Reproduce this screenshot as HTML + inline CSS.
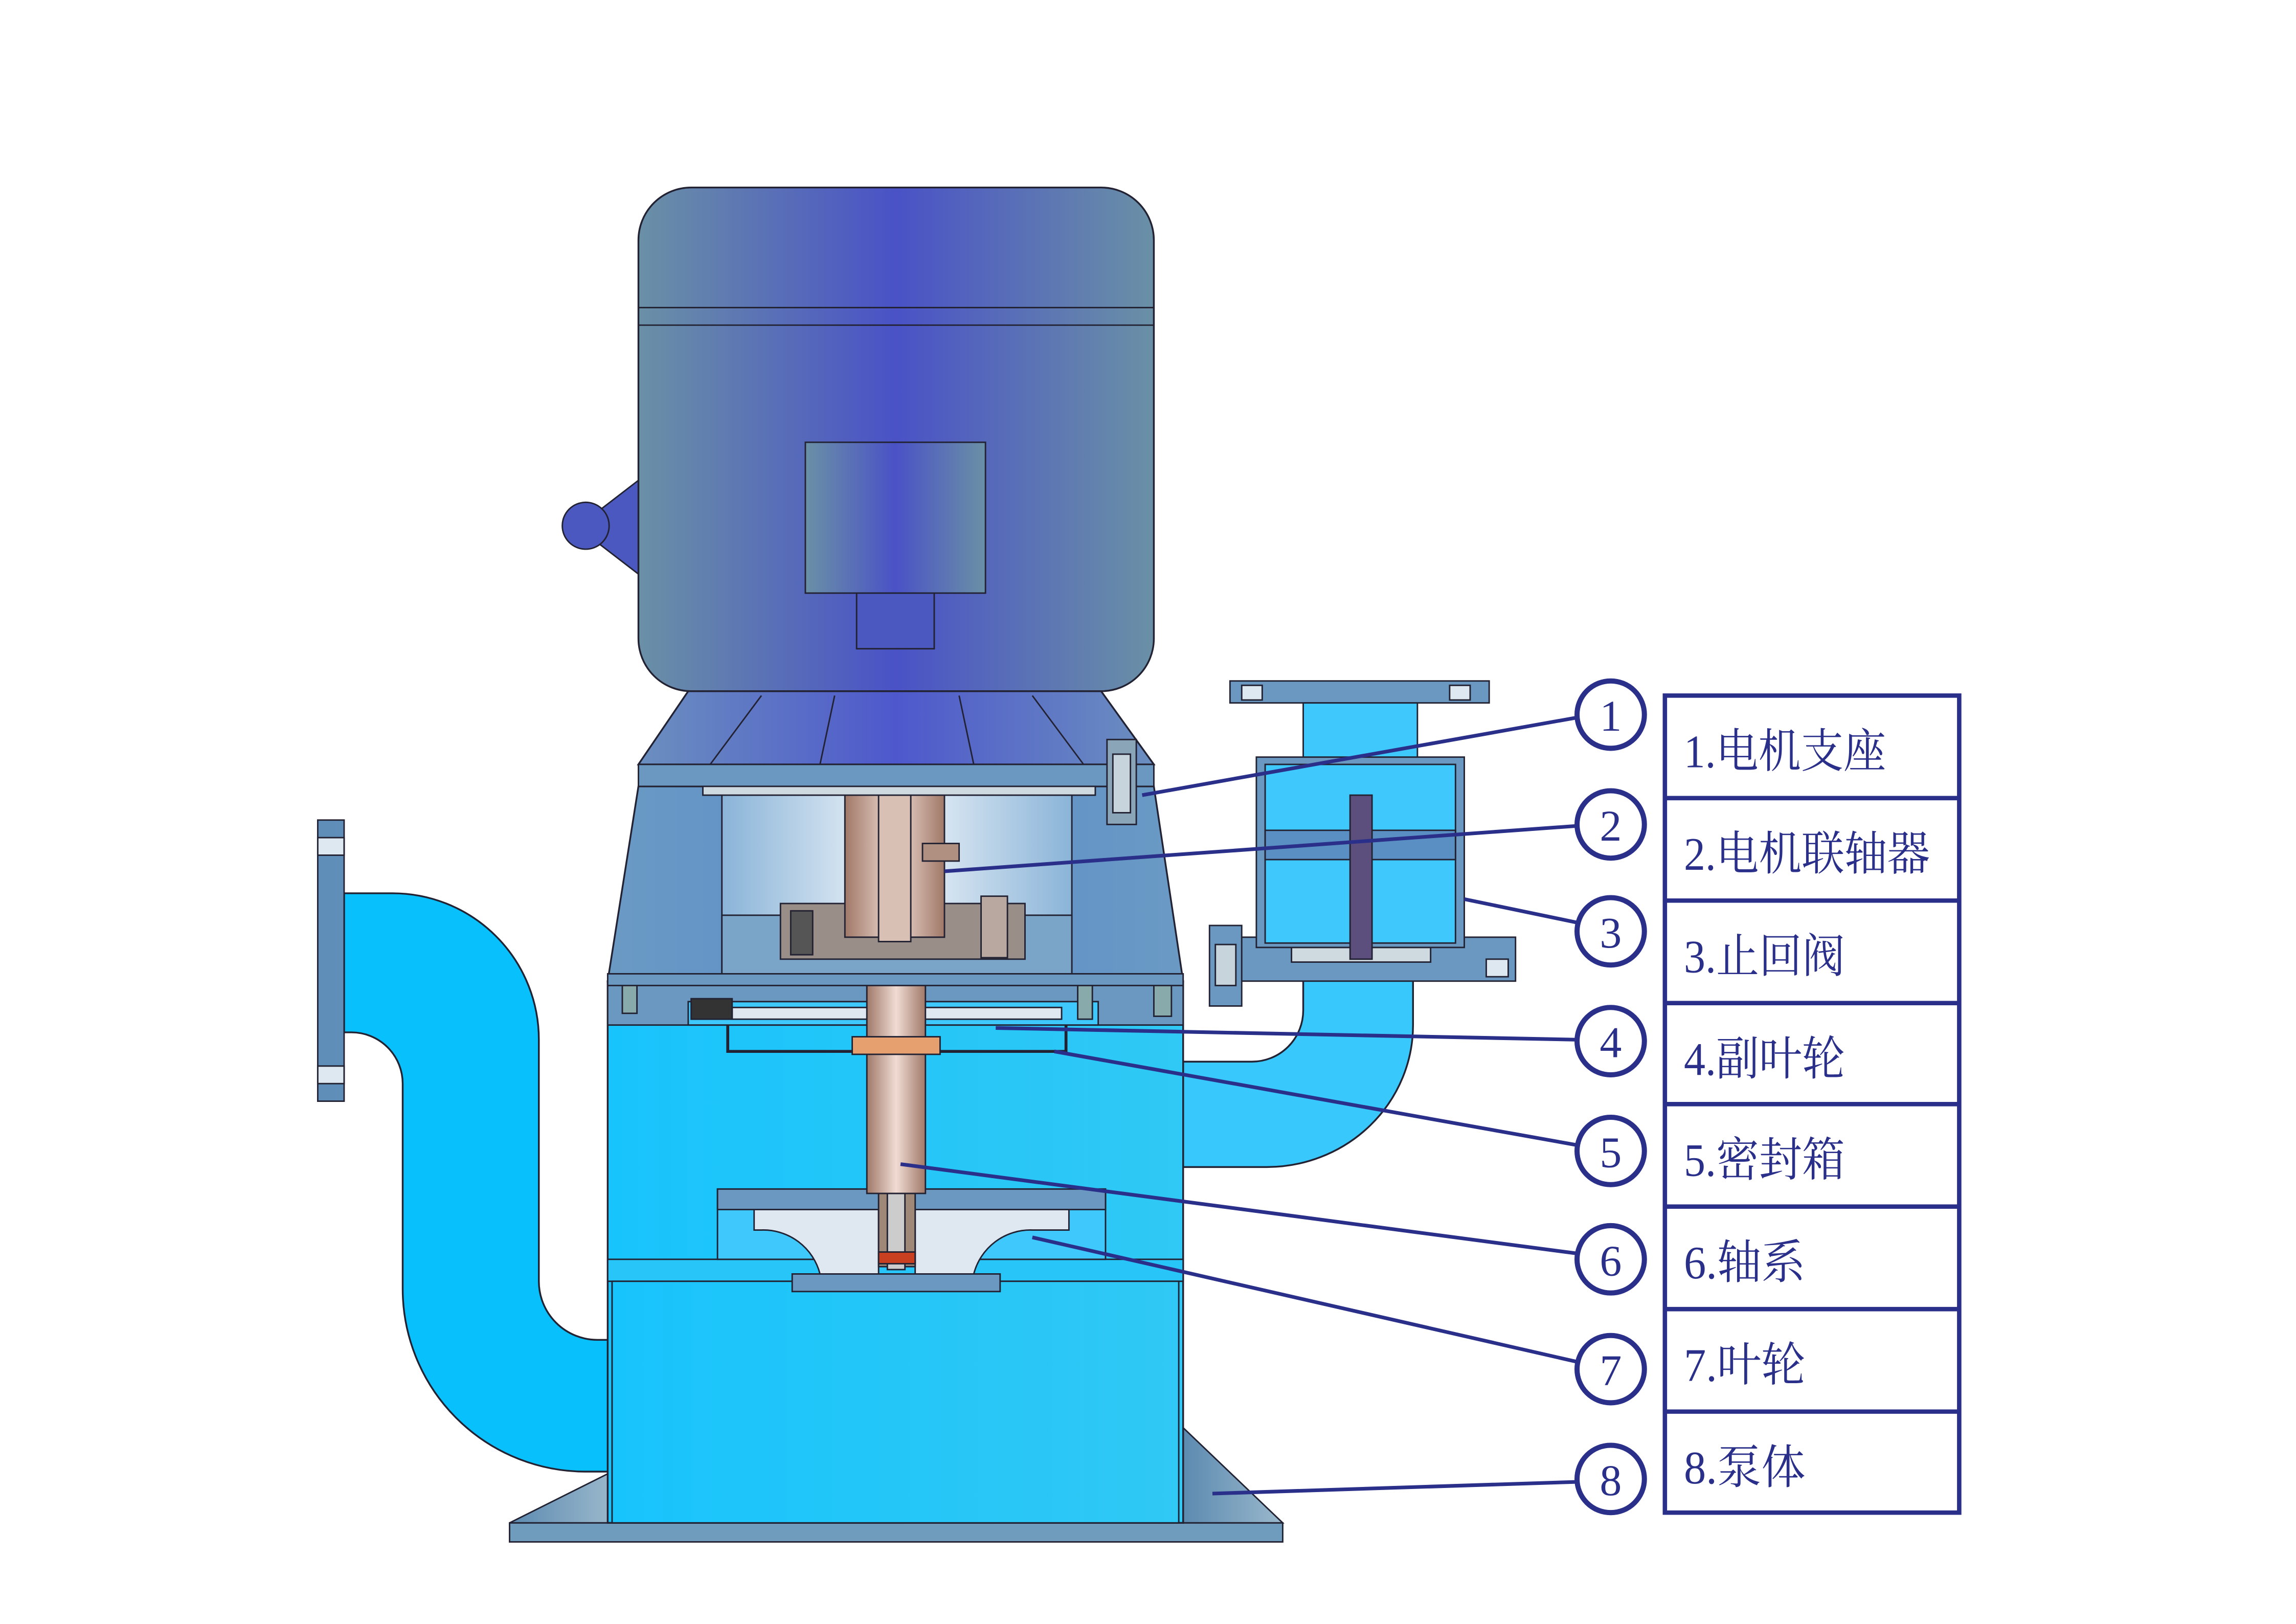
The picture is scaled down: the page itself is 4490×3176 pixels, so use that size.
<!DOCTYPE html>
<html><head><meta charset="utf-8">
<style>
html,body{margin:0;padding:0;background:#fff;}
svg{display:block;}
.cn{font-family:"Liberation Serif","Noto Serif CJK SC",serif;fill:#2a2f8a;}
</style></head>
<body>
<svg width="4490" height="3176" viewBox="0 0 1568 1109" xmlns="http://www.w3.org/2000/svg">
<defs>
<linearGradient id="motor" x1="0" x2="1" y1="0" y2="0">
<stop offset="0" stop-color="#6a90a6"/><stop offset="0.5" stop-color="#4a52c6"/><stop offset="1" stop-color="#6a90a6"/>
</linearGradient>
<linearGradient id="brk" x1="0" x2="1">
<stop offset="0" stop-color="#6b8fbf"/><stop offset="0.5" stop-color="#4e58cc"/><stop offset="1" stop-color="#6b8fbf"/>
</linearGradient>
<linearGradient id="cone" x1="0" x2="1">
<stop offset="0" stop-color="#6a9ac4"/><stop offset="0.5" stop-color="#5a8cc8"/><stop offset="1" stop-color="#6a9ac4"/>
</linearGradient>
<linearGradient id="win" x1="0" x2="1">
<stop offset="0" stop-color="#8ab4d8"/><stop offset="0.5" stop-color="#f2f6fa"/><stop offset="1" stop-color="#8ab4d8"/>
</linearGradient>
<linearGradient id="body" x1="0" x2="1">
<stop offset="0" stop-color="#18c4fc"/><stop offset="1" stop-color="#30c8f4"/>
</linearGradient>
<linearGradient id="shaft" x1="0" x2="1">
<stop offset="0" stop-color="#a07868"/><stop offset="0.5" stop-color="#f0dcd4"/><stop offset="1" stop-color="#a07868"/>
</linearGradient>
<linearGradient id="grey" x1="0" x2="1">
<stop offset="0" stop-color="#5c8ab0"/><stop offset="1" stop-color="#9ab8cc"/>
</linearGradient>
</defs>

<rect x="348" y="1040" width="528" height="13" fill="#6f9bbd" stroke="#223" stroke-width="1"/>
<polygon points="348,1040 418,1005 418,1040" fill="url(#grey)" stroke="#223"/>
<polygon points="808,975 876,1040 808,1040" fill="url(#grey)" stroke="#223"/>

<path d="M235,610 L268,610 A100,100 0 0 1 368,710 L368,875 A40,40 0 0 0 408,915 L418,915 L418,1005 L400,1005 A125,125 0 0 1 275,880 L275,740 A35,35 0 0 0 240,705 L235,705 Z" fill="#08c0fc" stroke="#223" stroke-width="1.2"/>
<rect x="217" y="560" width="18" height="192" fill="#5f8fb8" stroke="#223"/>
<rect x="217" y="572" width="18" height="12" fill="#dde8f0" stroke="#223"/>
<rect x="217" y="728" width="18" height="12" fill="#dde8f0" stroke="#223"/>

<path d="M890,665 L965,665 L965,700 A100,97 0 0 1 865,797 L808,797 L808,725 L855,725 A35,35 0 0 0 890,690 Z" fill="#38c8fc" stroke="#223" stroke-width="1.2"/>

<rect x="843" y="640" width="192" height="30" fill="#6a98c0" stroke="#223"/>
<rect x="1015" y="655" width="15" height="12" fill="#dde8f0" stroke="#223"/>
<rect x="882" y="647" width="95" height="10" fill="#cfd9e0" stroke="#223"/>
<rect x="858" y="517" width="142" height="130" fill="#6a98c0" stroke="#223"/>
<rect x="864" y="522" width="130" height="122" fill="#3ec8fc" stroke="#223"/>
<rect x="864" y="567" width="130" height="20" fill="#5a8fc4" stroke="#223"/>
<rect x="922" y="543" width="15" height="112" fill="#5c4f7e" stroke="#223"/>
<rect x="840" y="465" width="177" height="15" fill="#6a98c0" stroke="#223"/>
<rect x="848" y="468" width="14" height="10" fill="#dde8f0" stroke="#223"/>
<rect x="990" y="468" width="14" height="10" fill="#dde8f0" stroke="#223"/>
<rect x="890" y="480" width="78" height="37" fill="#3ec8fc" stroke="#223"/>
<rect x="826" y="632" width="22" height="55" fill="#6a98c0" stroke="#223"/>
<rect x="830" y="645" width="14" height="28" fill="#c8d4dc" stroke="#223"/>

<rect x="415" y="670" width="393" height="370" fill="url(#body)" stroke="#223" stroke-width="1.2"/>
<rect x="415" y="860" width="393" height="15" fill="#28c6f8" stroke="#223"/>
<rect x="418" y="875" width="387" height="165" fill="url(#body)" stroke="#223"/>
<rect x="415" y="670" width="393" height="30" fill="#6a98c0" stroke="#223"/>
<rect x="470" y="684" width="280" height="16" fill="#3ec8fc" stroke="#223"/>
<rect x="500" y="688" width="225" height="8" fill="#dfe8f0" stroke="#223"/>
<path d="M497,700 L497,718 L728,718 L728,700" fill="none" stroke="#223" stroke-width="2"/>
<rect x="425" y="672" width="10" height="20" fill="#8aa" stroke="#223"/>
<rect x="788" y="664" width="12" height="30" fill="#8aa" stroke="#223"/>
<rect x="736" y="672" width="10" height="24" fill="#8aa" stroke="#223"/>
<rect x="472" y="682" width="28" height="14" fill="#333" stroke="#223"/>

<rect x="490" y="812" width="265" height="48" fill="#3ec8fc" stroke="#223"/>
<rect x="490" y="812" width="265" height="14" fill="#6a98c0" stroke="#223"/>
<path d="M515,826 L600,826 L600,870 L560,870 A40,40 0 0 0 520,840 L515,840 Z" fill="#dfe8f0" stroke="#223"/>
<path d="M730,826 L625,826 L625,870 L665,870 A40,40 0 0 1 705,840 L730,840 Z" fill="#dfe8f0" stroke="#223"/>
<rect x="541" y="870" width="142" height="12" fill="#6a98c0" stroke="#223"/>
<rect x="600" y="815" width="25" height="50" fill="#a08878" stroke="#223"/>
<rect x="606" y="815" width="12" height="52" fill="#ccc" stroke="#223"/>
<rect x="600" y="855" width="25" height="8" fill="#c84020" stroke="#223"/>

<rect x="592" y="640" width="40" height="175" fill="url(#shaft)" stroke="#223"/>
<rect x="582" y="708" width="60" height="12" fill="#e6a070" stroke="#223"/>

<polygon points="436,537 788,537 808,670 415,670" fill="url(#cone)" stroke="#223" stroke-width="1.2"/>
<rect x="493" y="543" width="239" height="122" fill="url(#win)" stroke="#223"/>
<rect x="493" y="625" width="239" height="40" fill="#7aa4c8" stroke="#223"/>
<rect x="533" y="617" width="167" height="38" fill="#9a8f88" stroke="#223"/>
<rect x="540" y="622" width="15" height="30" fill="#555" stroke="#223"/>
<rect x="670" y="612" width="18" height="42" fill="#b8a8a0" stroke="#223"/>
<rect x="577" y="543" width="68" height="97" fill="url(#shaft)" stroke="#223"/>
<rect x="600" y="543" width="22" height="100" fill="#d8c0b4" stroke="#223"/>
<rect x="630" y="576" width="25" height="12" fill="#b09080" stroke="#223"/>
<rect x="415" y="665" width="393" height="8" fill="#6a98c0" stroke="#223"/>

<polygon points="470,472 752,472 788,522 436,522" fill="url(#brk)" stroke="#223" stroke-width="1.2"/>
<line x1="520" y1="475" x2="485" y2="522" stroke="#223"/>
<line x1="570" y1="475" x2="560" y2="522" stroke="#223"/>
<line x1="655" y1="475" x2="665" y2="522" stroke="#223"/>
<line x1="705" y1="475" x2="740" y2="522" stroke="#223"/>
<rect x="436" y="522" width="352" height="15" fill="#6a98c0" stroke="#223"/>
<rect x="480" y="537" width="268" height="6" fill="#cfd9e0" stroke="#223"/>
<rect x="756" y="505" width="20" height="58" fill="#8aa4b8" stroke="#223"/>
<rect x="760" y="515" width="12" height="40" fill="#c8d4dc" stroke="#223"/>

<polygon points="410,348 436,328 436,392 410,372" fill="#4a58c0" stroke="#223"/>
<circle cx="400" cy="359" r="16" fill="#4a58c0" stroke="#223"/>
<rect x="436" y="128" width="352" height="344" rx="36" fill="url(#motor)" stroke="#223" stroke-width="1.2"/>
<line x1="436" y1="210" x2="788" y2="210" stroke="#223"/>
<line x1="436" y1="222" x2="788" y2="222" stroke="#223"/>
<rect x="550" y="302" width="123" height="103" fill="url(#motor)" stroke="#223"/>
<rect x="585" y="405" width="53" height="38" fill="#4a58c0" stroke="#223"/>

<g stroke="#2a2f8a" stroke-width="2.5" fill="none">
<line x1="1077" y1="490" x2="780" y2="543"/>
<line x1="1077" y1="564" x2="645" y2="595"/>
<line x1="1077" y1="630" x2="1000" y2="614"/>
<line x1="1077" y1="710" x2="680" y2="702"/>
<line x1="1077" y1="782" x2="720" y2="718"/>
<line x1="1077" y1="856" x2="615" y2="795"/>
<line x1="1077" y1="930" x2="705" y2="845"/>
<line x1="1077" y1="1012" x2="828" y2="1020"/>
</g>
<g stroke="#2a2f8a" stroke-width="3.5" fill="#fff">
<circle cx="1100" cy="488" r="23"/><circle cx="1100" cy="563" r="23"/>
<circle cx="1100" cy="636" r="23"/><circle cx="1100" cy="711" r="23"/>
<circle cx="1100" cy="786" r="23"/><circle cx="1100" cy="860" r="23"/>
<circle cx="1100" cy="935" r="23"/><circle cx="1100" cy="1010" r="23"/>
</g>
<g class="cn" font-size="30" text-anchor="middle">
<text x="1100" y="499">1</text><text x="1100" y="574">2</text>
<text x="1100" y="647">3</text><text x="1100" y="722">4</text>
<text x="1100" y="797">5</text><text x="1100" y="871">6</text>
<text x="1100" y="946">7</text><text x="1100" y="1021">8</text>
</g>

<g stroke="#2a2f8a" stroke-width="3" fill="none">
<rect x="1137" y="475" width="201" height="558"/>
<line x1="1137" y1="545" x2="1338" y2="545"/>
<line x1="1137" y1="615" x2="1338" y2="615"/>
<line x1="1137" y1="685" x2="1338" y2="685"/>
<line x1="1137" y1="754" x2="1338" y2="754"/>
<line x1="1137" y1="824" x2="1338" y2="824"/>
<line x1="1137" y1="894" x2="1338" y2="894"/>
<line x1="1137" y1="964" x2="1338" y2="964"/>
</g>
<g class="cn" font-size="32">
<text x="1150" y="524" textLength="138" lengthAdjust="spacingAndGlyphs">1.电机支座</text>
<text x="1150" y="594" textLength="168" lengthAdjust="spacingAndGlyphs">2.电机联轴器</text>
<text x="1150" y="664" textLength="110" lengthAdjust="spacingAndGlyphs">3.止回阀</text>
<text x="1150" y="734" textLength="110" lengthAdjust="spacingAndGlyphs">4.副叶轮</text>
<text x="1150" y="803" textLength="110" lengthAdjust="spacingAndGlyphs">5.密封箱</text>
<text x="1150" y="873" textLength="83" lengthAdjust="spacingAndGlyphs">6.轴系</text>
<text x="1150" y="943" textLength="83" lengthAdjust="spacingAndGlyphs">7.叶轮</text>
<text x="1150" y="1013" textLength="83" lengthAdjust="spacingAndGlyphs">8.泵体</text>
</g>
</svg>
</body></html>
